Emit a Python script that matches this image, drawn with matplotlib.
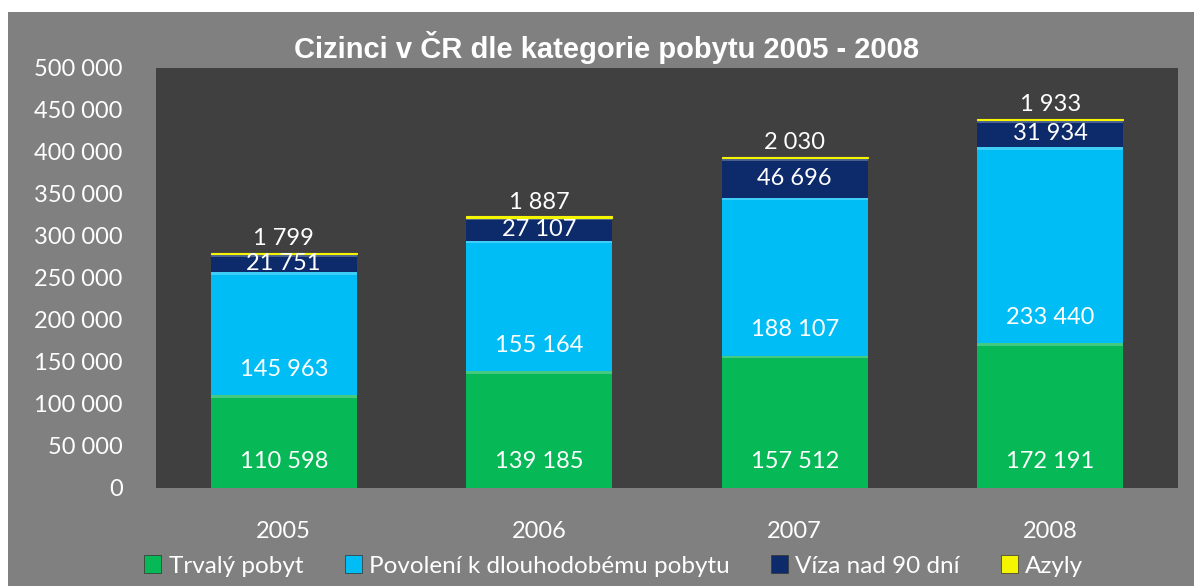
import matplotlib.pyplot as plt
import matplotlib.patches as mpatches
import numpy as np

years = ["2005", "2006", "2007", "2008"]
trvaly = [110598, 139185, 157512, 172191]
povoleni = [145963, 155164, 188107, 233440]
viza = [21751, 27107, 46696, 31934]
azyly = [1799, 1887, 2030, 1933]

names = ["Trvalý pobyt", "Povolení k dlouhodobému pobytu", "Víza nad 90 dní", "Azyly"]
colors = ["#06b956", "#00bef5", "#0d2a6a", "#f5f500"]

W, H = 1194, 586
fig = plt.figure(figsize=(W / 100, H / 100), dpi=100, facecolor="white")
# grey chart area (white strip at top/left like the original)
fig.patches.append(mpatches.Rectangle((8 / W, 0), 1, 1 - 12 / H, transform=fig.transFigure,
                                      facecolor="#808080", edgecolor="none", zorder=-5))

ax = fig.add_axes([156 / W, 1 - 488 / H, (1178 - 156) / W, (488 - 68) / H])
ax.set_zorder(2)
ax.set_facecolor("#404040")
for s in ax.spines.values():
    s.set_visible(False)

x = np.arange(len(years))
bw = 0.57
series = [trvaly, povoleni, viza]
bottom = np.zeros(len(years))
for vals, c in zip(series, colors[:3]):
    ax.bar(x, vals, bw, bottom=bottom, color=c, edgecolor="none", zorder=2)
    # bevel highlight on top edge
    hl = np.full(len(vals), 3000)
    ax.bar(x, hl, bw, bottom=bottom + np.array(vals) - hl,
           color="white", alpha=0.25, edgecolor="none", zorder=3)
    bottom = bottom + np.array(vals)
# thin asylum segment on top
ax.bar(x, azyly, bw, bottom=bottom, color=colors[3], edgecolor=colors[3],
       linewidth=0.8, zorder=4)

tf = dict(color="white", fontsize=17, family="Lato", ha="center", va="center", zorder=5)
for i in range(len(years)):
    ax.text(x[i], 31000, f"{trvaly[i]:,}".replace(",", " "), **tf)
    ax.text(x[i], trvaly[i] + 31000, f"{povoleni[i]:,}".replace(",", " "), **tf)
    base = trvaly[i] + povoleni[i]
    ax.text(x[i], base + viza[i] / 2, f"{viza[i]:,}".replace(",", " "), **tf)
    top = base + viza[i] + azyly[i]
    ax.text(x[i], top + 16500, f"{azyly[i]:,}".replace(",", " "), **tf)

ax.set_xlim(-0.5, 3.5)
ax.set_ylim(0, 500000)
ax.set_yticks(np.arange(0, 500001, 50000))
ax.set_yticklabels([f"{v:,}".replace(",", " ") for v in range(0, 500001, 50000)])
ax.set_xticks(x)
ax.set_xticklabels(years)
ax.tick_params(axis="y", length=0, pad=24, labelsize=17, labelcolor="white")
ax.tick_params(axis="x", length=0, pad=24, labelsize=17, labelcolor="white")
for lab in ax.get_xticklabels() + ax.get_yticklabels():
    lab.set_family("Lato")

fig.text(606 / W, 1 - 48 / H, "Cizinci v ČR dle kategorie pobytu 2005 - 2008",
         ha="center", va="center", fontsize=21, fontweight="bold",
         family="Liberation Sans", color="white")

handles = [mpatches.Patch(facecolor=c, edgecolor="#333333", linewidth=0.5) for c in colors]
leg = fig.legend(handles, names, loc="center", bbox_to_anchor=(614 / W, 1 - 566 / H),
                 ncol=4, frameon=False, handlelength=0.7, handleheight=0.7,
                 handletextpad=0.3, columnspacing=1.7, prop={"family": "Lato", "size": 17.5})
for t in leg.get_texts():
    t.set_color("white")

fig.savefig("out.png", dpi=100, facecolor=fig.get_facecolor())
